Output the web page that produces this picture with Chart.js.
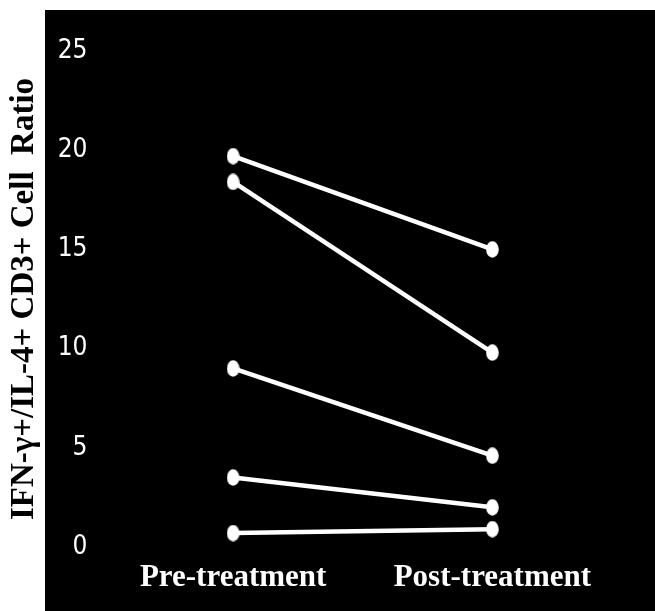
<!DOCTYPE html>
<html>
<head>
<meta charset="utf-8">
<script src="https://cdn.jsdelivr.net/npm/chart.js@4.4.0/dist/chart.umd.min.js"></script>
<style>
  html, body { margin: 0; padding: 0; background: #fff; }
  #chart { display: block; }
</style>
</head>
<body>
<canvas id="chart" width="655" height="611"></canvas>
<script>
const groups = ['Pre-treatment', 'Post-treatment'];
const preValues = [19.7, 18.4, 9.0, 3.5, 0.7];
const postValues = [15.0, 9.8, 4.6, 2.0, 0.9];
const yTicks = [0, 5, 10, 15, 20, 25];
const yTitle = 'IFN-\u03b3+/IL-4+ CD3+ Cell  Ratio';

// white oval marker, a bit taller than wide like the scan
const makeDot = () => {
    const c = document.createElement('canvas');
    c.width = 13; c.height = 17;
    const g = c.getContext('2d');
    g.fillStyle = '#fff';
    g.beginPath();
    g.ellipse(6.5, 8.5, 6.3, 8.3, 0, 0, Math.PI * 2);
    g.fill();
    return c;
}
const dot = makeDot();

const blackPanel = {
    id: 'blackPanel',
    beforeDraw: (chart) => {
        const ctx = chart.ctx;
        ctx.save();
        ctx.fillStyle = '#000';
        ctx.fillRect(45, 10, chart.width - 45, chart.height - 10);
        ctx.restore();
    }
}

const datasets = preValues.map((v, i) => ({
    data: [v, postValues[i]],
    borderColor: '#fff',
    borderWidth: 4.5,
    pointStyle: dot,
    pointRadius: 8,
    pointHoverRadius: 8,
    tension: 0
}));

new Chart('chart', {
    type: 'line',
    data: { labels: groups, datasets },
    options: {
        responsive: false,
        animation: false,
        layout: { padding: { top: 51, left: 0, right: 33, bottom: 0 } },
        plugins: { legend: { display: false }, tooltip: { enabled: false } },
        scales: {
            x: {
                offset: true,
                border: { display: false },
                grid: { display: false, drawTicks: false },
                ticks: {
                    color: '#fff',
                    padding: 12,
                    font: { family: '"Liberation Serif", "Times New Roman", serif', size: 31, weight: 'bold' }
                },
                afterFit: (s) => { s.height = 64; }
            },
            y: {
                min: 0,
                max: 25,
                afterBuildTicks: (s) => { s.ticks = yTicks.map(v => ({ value: v })); },
                border: { display: false },
                grid: { display: false, drawTicks: false },
                ticks: {
                    color: '#fff',
                    padding: 16,
                    font: { family: '"Liberation Sans Narrow", "DejaVu Sans Condensed", sans-serif', size: 26 }
                },
                title: {
                    display: true,
                    text: yTitle,
                    color: '#000',
                    padding: { top: 5, bottom: 0 },
                    font: { family: '"Liberation Serif", "Times New Roman", serif', size: 33, weight: 'bold' }
                },
                afterFit: (s) => { s.width = 103.5; }
            }
        }
    },
    plugins: [blackPanel]
});
</script>
</body>
</html>
